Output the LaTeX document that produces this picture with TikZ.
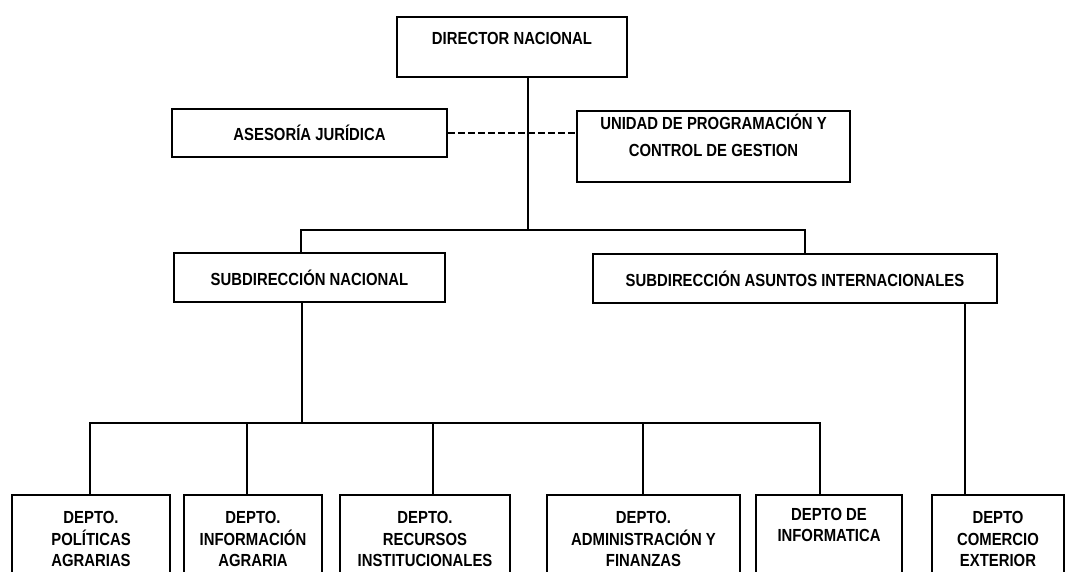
\documentclass[tikz,border=0pt]{standalone}
\usepackage{fontspec}
\setmainfont{Liberation Sans}[FakeStretch=0.85]

\begin{document}
\begin{tikzpicture}[x=1pt, y=-1pt, % pixel units, y down
  box/.style={draw, line width=1.6pt, inner sep=0pt, align=center,
              font=\fontsize{17.5}{21.5}\selectfont\bfseries},
  link/.style={line width=1.6pt},
  staff/.style={line width=1.2pt, dash pattern=on 7pt off 3pt}]
\newcommand{\Bartop}{230}; % upper bar
\newcommand{\Barlow}{423}; % lower bar

\useasboundingbox (0,0) rectangle (1067,572);
\clip (0,0) rectangle (1067,572);

% upper levels
\node[box, minimum width=230pt, minimum height=60pt] (dir) at (512,47) {DIRECTOR NACIONAL\\[-10pt] \strut};
\node[box, minimum width=275pt, minimum height=48pt] (ase) at (309.5,133) {ASESORÍA JURÍDICA};
\node[box, minimum width=273pt, minimum height=71pt] (uni) at (713.5,146.5) {UNIDAD DE PROGRAMACIÓN Y\\[5.5pt] CONTROL DE GESTION\\[-6pt] \strut};
\node[box, minimum width=271pt, minimum height=49pt] (sn)  at (309.5,277.5) {SUBDIRECCIÓN NACIONAL};
\node[box, minimum width=404pt, minimum height=49pt] (sai) at (795,278.5) {SUBDIRECCIÓN ASUNTOS INTERNACIONALES};

% departments (cut by the page bottom)
\node[box, minimum width=158pt, minimum height=88pt] (pol) at (91,539)    {DEPTO.\\POLÍTICAS\\AGRARIAS};
\node[box, minimum width=138pt, minimum height=88pt] (inf) at (253,539)   {DEPTO.\\INFORMACIÓN\\AGRARIA};
\node[box, minimum width=170pt, minimum height=88pt] (rec) at (425,539)   {DEPTO.\\RECURSOS\\INSTITUCIONALES};
\node[box, minimum width=193pt, minimum height=88pt] (adm) at (643.5,539) {DEPTO.\\ADMINISTRACIÓN Y\\FINANZAS};
\node[box, minimum width=146pt, minimum height=88pt] (itc) at (829,539)   {DEPTO DE\\INFORMATICA\\ \strut};
\node[box, minimum width=132pt, minimum height=88pt] (com) at (998,539)   {DEPTO\\COMERCIO\\EXTERIOR};

\coordinate (T)  at (528,\Bartop);
\coordinate (TL) at (301,\Bartop);
\coordinate (TR) at (805,\Bartop);
\coordinate (B)  at (302,\Barlow);
\coordinate (BL) at (90,\Barlow);
\coordinate (BR) at (820,\Barlow);
\coordinate (S)  at (965,0); % drop of international branch

% trunk and upper bar
\draw[link] (dir.south -| T) -- (T);
\draw[link] (sn.north -| TL) -- (TL) -- (TR) -- (sai.north -| TR);

% staff line
\draw[staff] (ase.east) -- (ase.east -| uni.west);

% lower bar
\draw[link] (sn.south -| B) -- (B);
\draw[link] (pol.north -| BL) -- (BL) -- (BR) -- (itc.north -| BR);
\draw[link] (inf.north -| 247,0) -- (247,\Barlow);
\draw[link] (rec.north -| 433,0) -- (433,\Barlow);
\draw[link] (adm.north -| 643,0) -- (643,\Barlow);

% international branch
\draw[link] (sai.south -| S) -- (com.north -| S);
\end{tikzpicture}
\end{document}
